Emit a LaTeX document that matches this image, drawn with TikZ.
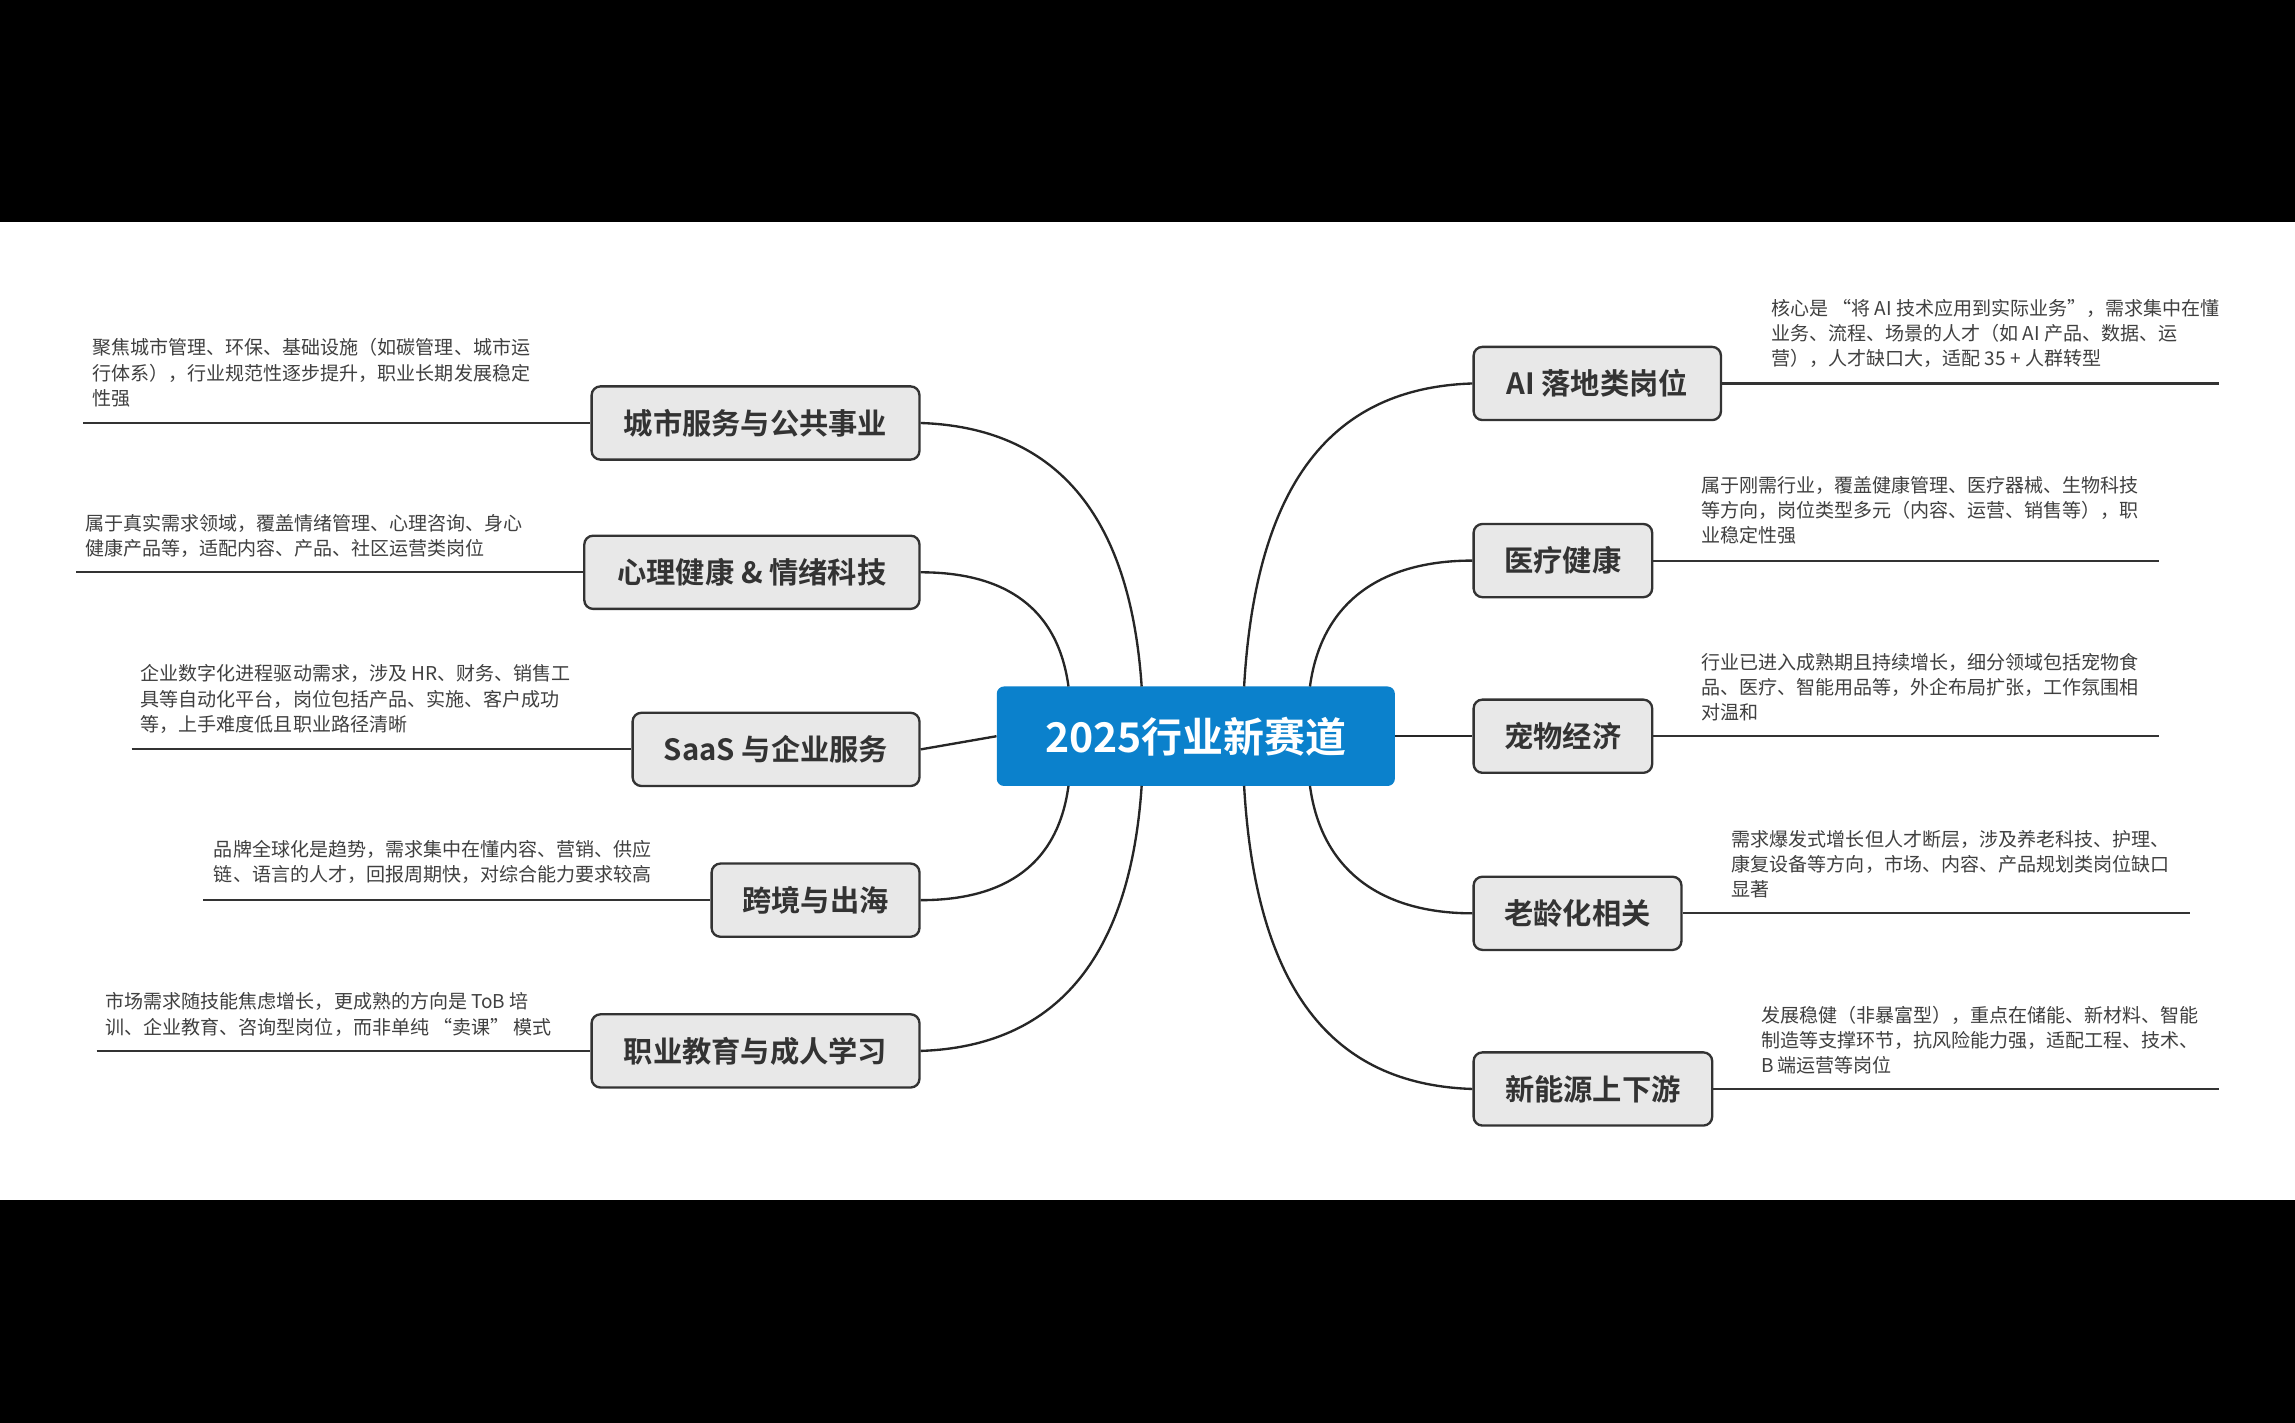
\documentclass[tikz,border=0pt]{standalone}
\usepackage{fontspec}
\setmainfont{Noto Sans CJK SC}[BoldFont={Noto Sans CJK SC Bold}]
\begin{document}
\begin{tikzpicture}[x=1pt,y=-1pt,
  br/.style={draw=black!80,fill=black!9,rounded corners=6pt,line width=1.6pt,font=\fontsize{20}{24}\selectfont\bfseries,text=black!80,inner sep=0pt,minimum height=50pt,anchor=west},
  brL/.style={br,anchor=east},
  desc/.style={font=\fontsize{13}{17.3}\selectfont,text=black!75,align=left,anchor=north west,inner sep=0pt},
  ln/.style={line width=1.4pt,draw=black!80},
  con/.style={line width=1.6pt,draw=black!85}]
\useasboundingbox (0,0) rectangle (1568,972);
\fill[black] (0,0) rectangle (1568,152);
\fill[black] (0,820) rectangle (1568,972);
\fill[white] (0,152) rectangle (1568,820);
% center
\node[fill={rgb,255:red,11;green,129;blue,204},rounded corners=5pt,minimum width=272pt,minimum height=68pt,text=white,font=\fontsize{28}{32}\selectfont\bfseries,inner sep=0pt] (c) at (817,503) {2025行业新赛道};
% left branches
\node[brL,minimum width=224pt] (L1) at (629,289) {城市服务与公共事业};
\node[brL,minimum width=229pt] (L2) at (629,391) {心理健康 \& 情绪科技};
\node[brL,minimum width=196pt] (L3) at (629,512) {SaaS 与企业服务};
\node[brL,minimum width=142pt] (L4) at (629,615) {跨境与出海};
\node[brL,minimum width=224pt] (L5) at (629,718) {职业教育与成人学习};
% right branches
\node[br,minimum width=169pt] (R1) at (1006,262) {AI 落地类岗位};
\node[br,minimum width=122pt] (R2) at (1006,383) {医疗健康};
\node[br,minimum width=122pt] (R3) at (1006,503) {宠物经济};
\node[br,minimum width=142pt] (R4) at (1006,624) {老龄化相关};
\node[br,minimum width=163pt] (R5) at (1006,744) {新能源上下游};
% start coordinates
\coordinate (s1) at (780,469);
\coordinate (s2) at (730,469);
\coordinate (s4) at (730,537);
\coordinate (s5) at (780,537);
\coordinate (t1) at (850,469);
\coordinate (t2) at (895,469);
\coordinate (t4) at (895,537);
\coordinate (t5) at (850,537);
\draw[con] (s1) .. controls (772,350) and (720,292) .. (L1.east);
\draw[con] (s2) .. controls (722,410) and (680,391) .. (L2.east);
\draw[con] (c.west) -- (L3.east);
\draw[con] (s4) .. controls (722,596) and (680,615) .. (L4.east);
\draw[con] (s5) .. controls (772,656) and (720,715) .. (L5.east);
\draw[con] (t1) .. controls (858,330) and (910,265) .. (R1.west);
\draw[con] (t2) .. controls (903,410) and (945,383) .. (R2.west);
\draw[con] (c.east) -- (R3.west);
\draw[con] (t4) .. controls (903,596) and (945,624) .. (R4.west);
\draw[con] (t5) .. controls (858,676) and (910,741) .. (R5.west);
% description lines
\coordinate (d1) at (57,289); \draw[ln] (d1) -- (L1.west);
\coordinate (d2) at (52,391); \draw[ln] (d2) -- (L2.west);
\coordinate (d3) at (90,512); \draw[ln] (d3) -- (L3.west);
\coordinate (d4) at (139,615); \draw[ln] (d4) -- (L4.west);
\coordinate (d5) at (66,718); \draw[ln] (d5) -- (L5.west);
\coordinate (e1) at (1516,262); \draw[ln] (R1.east) -- (e1);
\coordinate (e2) at (1475,383); \draw[ln] (R2.east) -- (e2);
\coordinate (e3) at (1475,503); \draw[ln] (R3.east) -- (e3);
\coordinate (e4) at (1496,624); \draw[ln] (R4.east) -- (e4);
\coordinate (e5) at (1516,744); \draw[ln] (R5.east) -- (e5);
% descriptions
\node[desc] (tL1) at (63,231) {聚焦城市管理、环保、基础设施（如碳管理、城市运\\行体系），行业规范性逐步提升，职业长期发展稳定\\性强};
\node[desc] (tL2) at (58,351) {属于真实需求领域，覆盖情绪管理、心理咨询、身心\\健康产品等，适配内容、产品、社区运营类岗位};
\node[desc] (tL3) at (96,454) {企业数字化进程驱动需求，涉及 HR、财务、销售工\\具等自动化平台，岗位包括产品、实施、客户成功\\等，上手难度低且职业路径清晰};
\node[desc] (tL4) at (146,574) {品牌全球化是趋势，需求集中在懂内容、营销、供应\\链、语言的人才，回报周期快，对综合能力要求较高};
\node[desc] (tL5) at (72,678) {市场需求随技能焦虑增长，更成熟的方向是 ToB 培\\训、企业教育、咨询型岗位，而非单纯 “卖课” 模式};
\node[desc] (tR1) at (1210,204) {核心是 “将 AI 技术应用到实际业务”，需求集中在懂\\业务、流程、场景的人才（如 AI 产品、数据、运\\营），人才缺口大，适配 35 + 人群转型};
\node[desc] (tR2) at (1162,325) {属于刚需行业，覆盖健康管理、医疗器械、生物科技\\等方向，岗位类型多元（内容、运营、销售等），职\\业稳定性强};
\node[desc] (tR3) at (1162,446) {行业已进入成熟期且持续增长，细分领域包括宠物食\\品、医疗、智能用品等，外企布局扩张，工作氛围相\\对温和};
\node[desc] (tR4) at (1183,567) {需求爆发式增长但人才断层，涉及养老科技、护理、\\康复设备等方向，市场、内容、产品规划类岗位缺口\\显著};
\node[desc] (tR5) at (1203,687) {发展稳健（非暴富型），重点在储能、新材料、智能\\制造等支撑环节，抗风险能力强，适配工程、技术、\\B 端运营等岗位};
\end{tikzpicture}
\end{document}
